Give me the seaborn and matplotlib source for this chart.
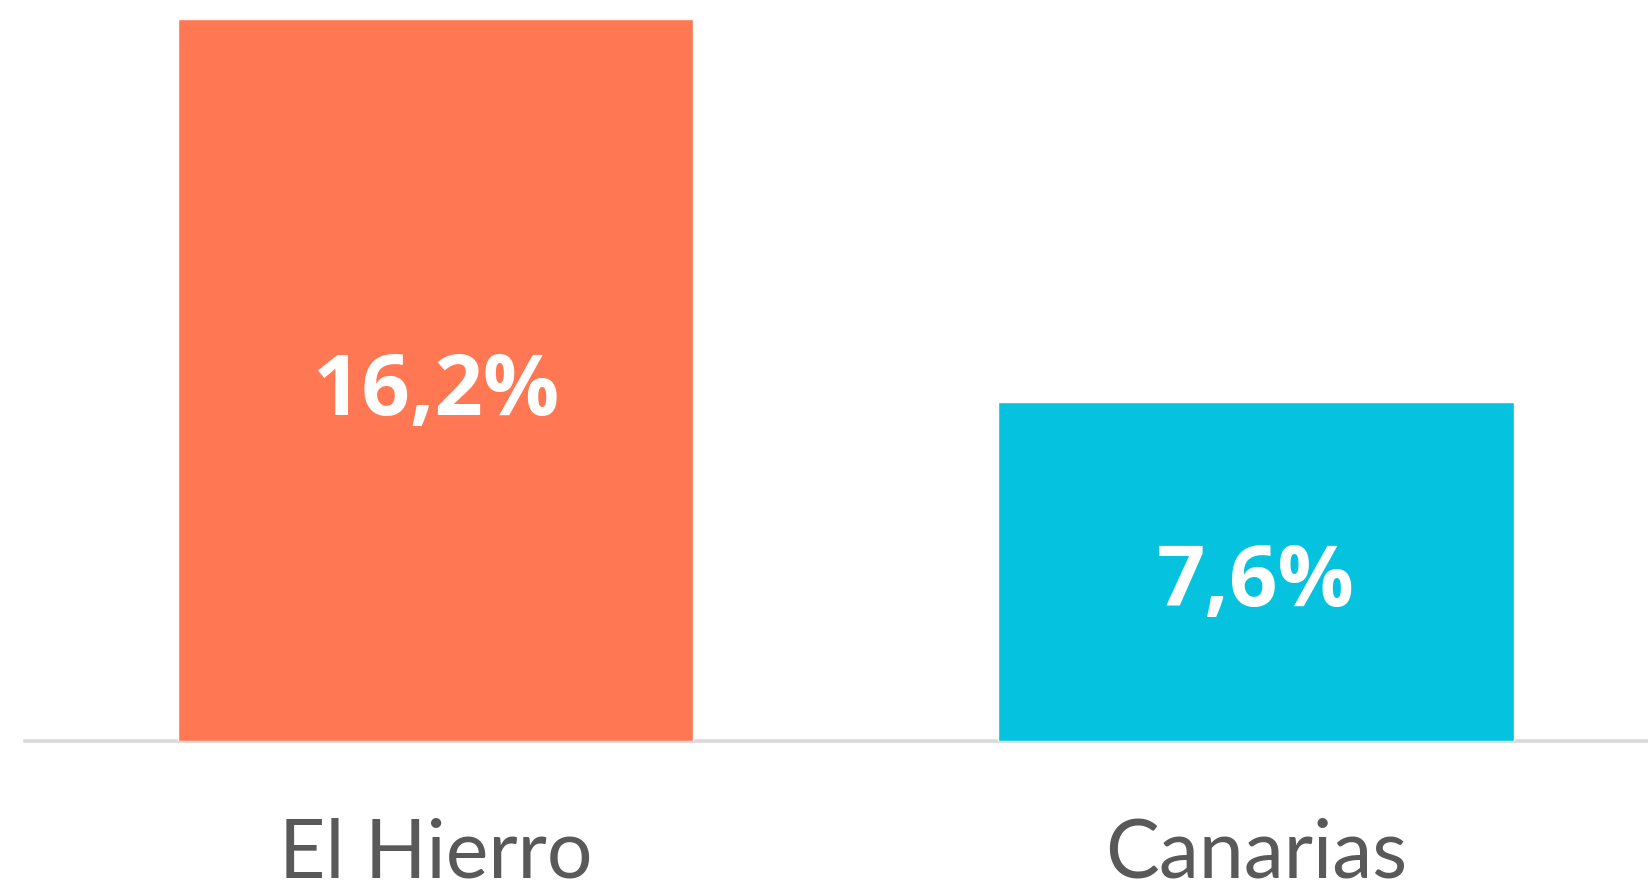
import matplotlib
matplotlib.use("Agg")
import matplotlib.pyplot as plt
import seaborn as sns
import pandas as pd

categories = ["El Hierro", "Canarias"]
values = [16.2, 7.6]
value_labels = ["16,2%", "7,6%"]
colors = ["#FF7853", "#05C3DE"]

sns.set_theme(style="white")
plt.rcParams['font.family'] = ['Lato', 'DejaVu Sans']

W, H = 1648, 888
fig = plt.figure(figsize=(W / 100, H / 100), dpi=100)
left_px, base_px = 25, 741
ax = fig.add_axes([left_px / W, (H - base_px) / H, (W - left_px) / W, base_px / H])

df = pd.DataFrame({"cat": categories, "val": values})
sns.barplot(data=df, x="cat", y="val", hue="cat", palette=colors,
            width=0.628, legend=False, ax=ax, saturation=1, zorder=3)

ax.set_xlim(-0.501, 1.478)
ax.set_ylim(0, 16.2 + 19 / (722 / 16.2))

for s in ["top", "left", "right"]:
    ax.spines[s].set_visible(False)
ax.spines["bottom"].set_color("#D9D9D9")
ax.spines["bottom"].set_linewidth(2.6)
ax.spines["bottom"].set_zorder(2)
ax.set_yticks([])
ax.set_xlabel("")
ax.set_ylabel("")
ax.tick_params(axis="x", length=0, pad=55, labelsize=58, labelcolor="#595959")

for i, (v, lab) in enumerate(zip(values, value_labels)):
    ax.annotate(lab, xy=(i, v / 2), xytext=(0, -9), textcoords="offset points",
                ha="center", va="center", color="white",
                fontsize=61, fontweight="bold", family=["Open Sans", "DejaVu Sans"],
                zorder=4)

fig.savefig("out.png", dpi=100, facecolor="white")
